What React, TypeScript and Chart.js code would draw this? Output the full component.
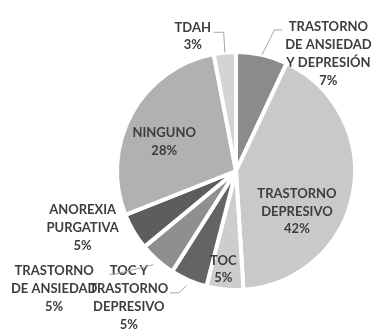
import React, { useEffect, useRef } from "react";
import { Chart, registerables } from "chart.js";

Chart.register(...registerables);

const categories = [
  "TRASTORNO\nDE ANSIEDAD\nY DEPRESIÓN",
  "TRASTORNO\nDEPRESIVO",
  "TOC",
  "TOC Y\nTRASTORNO\nDEPRESIVO",
  "TRASTORNO\nDE ANSIEDAD",
  "ANOREXIA\nPURGATIVA",
  "NINGUNO",
  "TDAH",
];
const values = [7, 42, 5, 5, 5, 5, 28, 3];
const colors = ["#8b8b8b", "#c9c9c9", "#cdcdcd", "#646464", "#8f8f8f", "#5d5d5d", "#b1b1b1", "#d4d4d4"];

// label placement: angle shift (deg) from slice mid-angle, radius factor, optional leader
type Leader = { s: number; elbow: [number, number]; end: [number, number] };
const labelLayout: { dAngle: number; r: number; leader?: Leader }[] = [
  { dAngle: 25.7, r: 1.253, leader: { s: 1.0, elbow: [-54, -24], end: [-46, -24] } },
  { dAngle: 22.7, r: 0.614 },
  { dAngle: 2.0, r: 0.833 },
  { dAngle: 16.8, r: 1.396, leader: { s: 1.05, elbow: [50, -5], end: [41, -5] } },
  { dAngle: 15.6, r: 1.822, leader: { s: 1.05, elbow: [61, -15], end: [55, -15] } },
  { dAngle: 10.2, r: 1.375 },
  { dAngle: -6.5, r: 0.652 },
  { dAngle: -12.4, r: 1.189, leader: { s: 1.0, elbow: [31, -4], end: [21, -4] } },
];

const labelPlugin = {
  id: "sliceLabels",
  afterDatasetsDraw(chart: any) {
    const ctx = chart.ctx as CanvasRenderingContext2D;
    const meta = chart.getDatasetMeta(0);
    ctx.save();
    meta.data.forEach((arc: any, i: number) => {
      const p = arc.getProps(["x", "y", "startAngle", "endAngle", "outerRadius"], true);
      const mid = (p.startAngle + p.endAngle) / 2;
      const L = labelLayout[i];
      const a = mid + (L.dAngle * Math.PI) / 180;
      const cx = p.x + Math.cos(a) * L.r * p.outerRadius;
      const cy = p.y + Math.sin(a) * L.r * p.outerRadius;
      if (L.leader) {
        const sx = p.x + Math.cos(mid) * p.outerRadius * L.leader.s;
        const sy = p.y + Math.sin(mid) * p.outerRadius * L.leader.s;
        ctx.strokeStyle = "#a6a6a6";
        ctx.lineWidth = 1;
        ctx.beginPath();
        ctx.moveTo(sx, sy);
        ctx.lineTo(cx + L.leader.elbow[0], cy + L.leader.elbow[1]);
        ctx.lineTo(cx + L.leader.end[0], cy + L.leader.end[1]);
        ctx.stroke();
      }
      const lines = [...categories[i].split("\n"), `${values[i]}%`];
      const lh = 17.8;
      ctx.fillStyle = "#3d3d3d";
      ctx.font = "bold 13px Lato";
      ctx.textAlign = "center";
      ctx.textBaseline = "middle";
      const top = cy - ((lines.length - 1) * lh) / 2;
      lines.forEach((t, k) => ctx.fillText(t, cx, top + k * lh));
    });
    ctx.restore();
  },
};

export default function App() {
  const ref = useRef<HTMLCanvasElement>(null);
  useEffect(() => {
    if (!ref.current) return;
    const chart = new Chart(ref.current, {
      type: "pie",
      data: {
        labels: categories.map((c) => c.replace(/\n/g, " ")),
        datasets: [
          {
            data: values,
            backgroundColor: colors,
            borderColor: "#ffffff",
            borderWidth: 4,
          },
        ],
      },
      options: {
        responsive: false,
        animation: false,
        devicePixelRatio: 1,
        layout: { padding: { left: 115, right: 24, top: 50, bottom: 43 } },
        plugins: { legend: { display: false }, tooltip: { enabled: false } },
      },
      plugins: [labelPlugin],
    });
    return () => chart.destroy();
  }, []);
  return (
    <div style={{ position: "fixed", left: 0, top: 0, width: 381, height: 335, background: "#fff" }}>
      <canvas ref={ref} width={381} height={335} style={{ display: "block" }} />
    </div>
  );
}
